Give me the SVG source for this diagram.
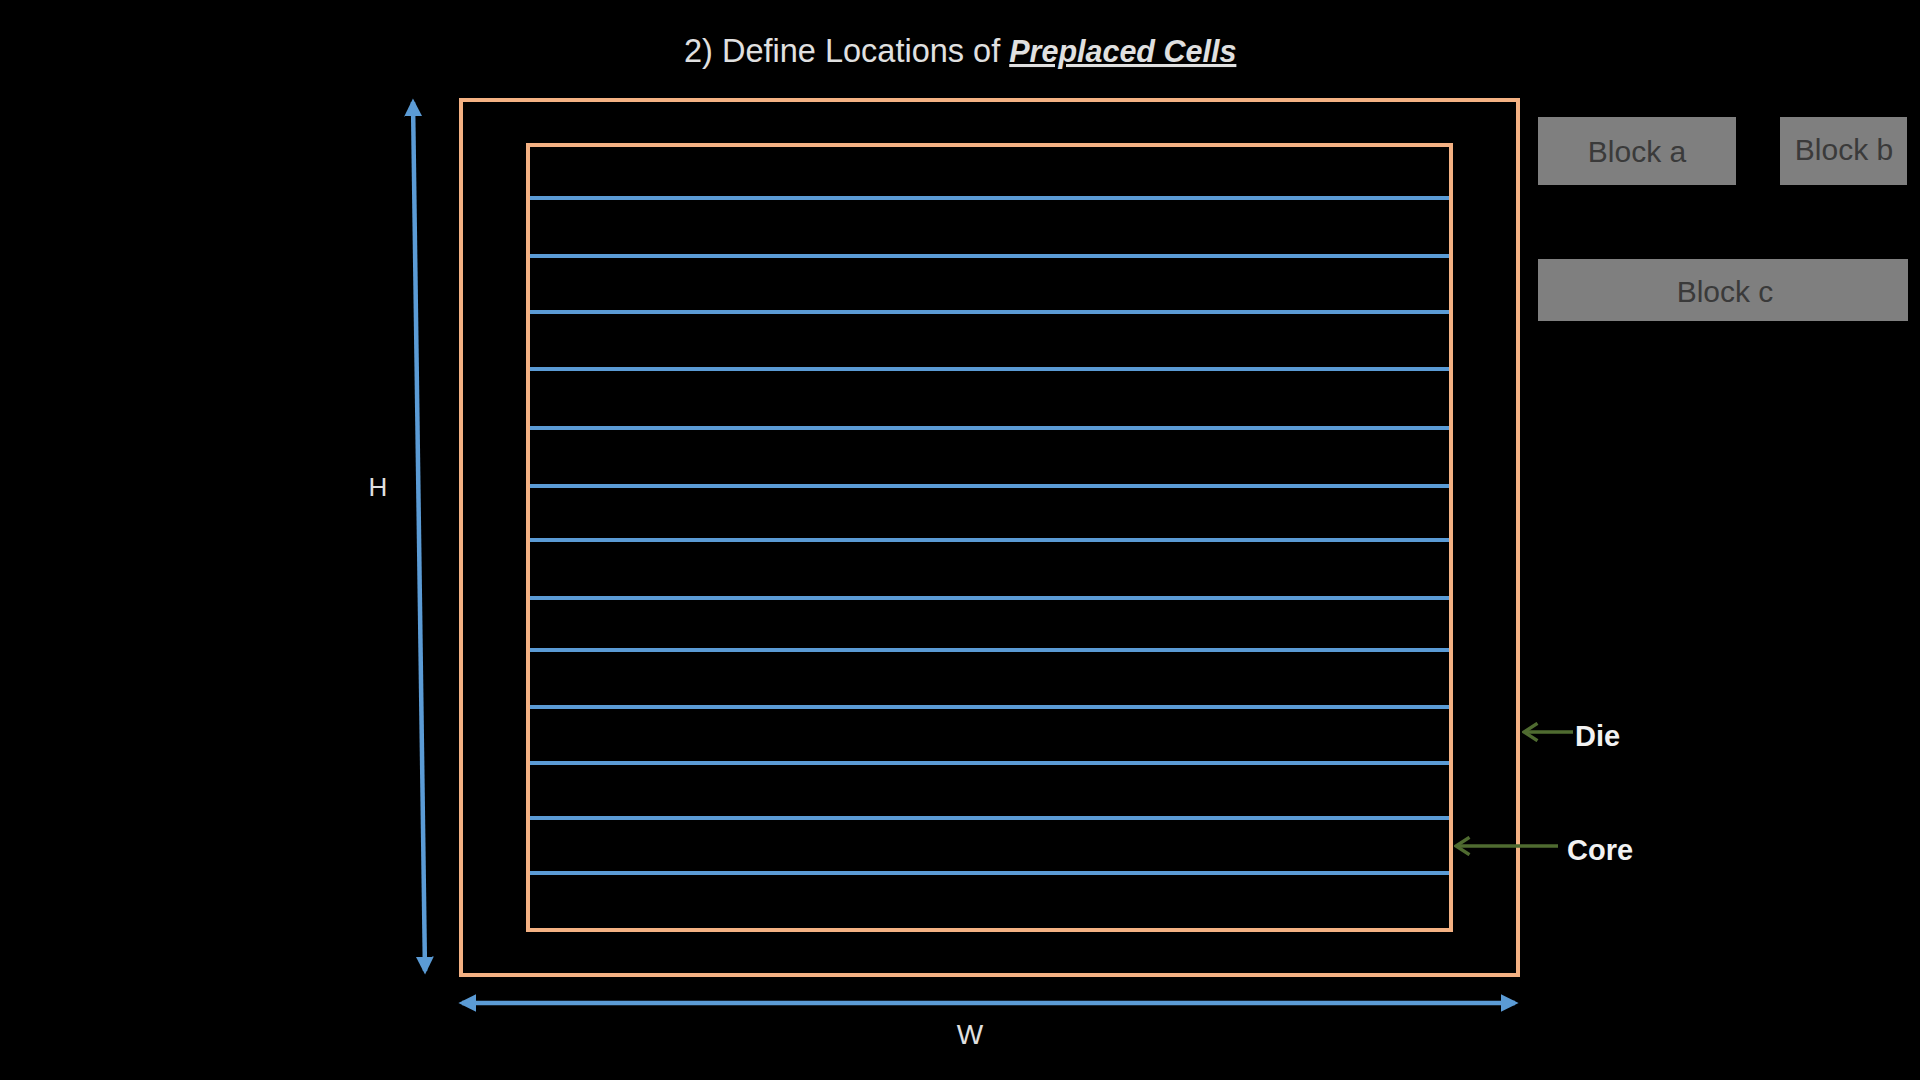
<svg xmlns="http://www.w3.org/2000/svg" width="1920" height="1080" viewBox="0 0 1920 1080">
<style>
.frame{fill:none;stroke:#F4B183;stroke-width:4}
.row{stroke:#5B9BD5;stroke-width:4}
.dim{stroke:#5B9BD5;stroke-width:4.5;fill:none}
.lbl{stroke:#4F6B30;stroke-width:3.5;fill:none}
.blk{fill:#7F7F7F}
.blkt{font-family:"Liberation Sans",Arial,sans-serif;font-size:30px;fill:#3A3A3A;text-anchor:middle}
.t{font-family:"Liberation Sans",Arial,sans-serif;fill:#E0E0E0}
.b{font-family:"Liberation Sans",Arial,sans-serif;font-weight:bold;fill:#F2F2F2;font-size:29px}
</style>
<defs>
<marker id="ab" viewBox="0 0 10 10" refX="8" refY="5" markerWidth="4" markerHeight="4" orient="auto-start-reverse" markerUnits="strokeWidth">
<path d="M0,0 L10,5 L0,10 Z" fill="#5B9BD5"/>
</marker>
<marker id="ag" viewBox="0 0 10 10" refX="9" refY="5" markerWidth="5.5" markerHeight="5.5" orient="auto" markerUnits="strokeWidth">
<path d="M2,0.5 L9,5 L2,9.5" fill="none" stroke="#4F6B30" stroke-width="1.8"/>
</marker>
</defs>
<rect width="1920" height="1080" fill="#000"/>
<text class="t" x="684" y="62" font-size="32.5">2) Define Locations of <tspan font-weight="bold" font-style="italic" text-decoration="underline" font-size="30.5">Preplaced Cells</tspan></text>
<g id="die"><rect class="frame" x="461" y="100" width="1057" height="875"/></g>
<g id="core"><rect class="frame" x="528" y="145" width="923" height="785"/>
<g id="rows">
<line class="row" x1="530" y1="198" x2="1449" y2="198"/>
<line class="row" x1="530" y1="256" x2="1449" y2="256"/>
<line class="row" x1="530" y1="312" x2="1449" y2="312"/>
<line class="row" x1="530" y1="369" x2="1449" y2="369"/>
<line class="row" x1="530" y1="428" x2="1449" y2="428"/>
<line class="row" x1="530" y1="486" x2="1449" y2="486"/>
<line class="row" x1="530" y1="540" x2="1449" y2="540"/>
<line class="row" x1="530" y1="598" x2="1449" y2="598"/>
<line class="row" x1="530" y1="650" x2="1449" y2="650"/>
<line class="row" x1="530" y1="707" x2="1449" y2="707"/>
<line class="row" x1="530" y1="763" x2="1449" y2="763"/>
<line class="row" x1="530" y1="818" x2="1449" y2="818"/>
<line class="row" x1="530" y1="873" x2="1449" y2="873"/>
</g></g>
<g id="block-a"><rect class="blk" x="1538" y="117" width="198" height="68"/><text class="blkt" x="1637" y="162">Block a</text></g>
<g id="block-b"><rect class="blk" x="1780" y="117" width="127" height="68"/><text class="blkt" x="1844" y="160">Block b</text></g>
<g id="block-c"><rect class="blk" x="1538" y="259" width="370" height="62"/><text class="blkt" x="1725" y="302">Block c</text></g>
<g id="connectors">
<line class="dim" x1="413" y1="102" x2="425" y2="971" marker-start="url(#ab)" marker-end="url(#ab)"/>
<line class="dim" x1="462" y1="1003" x2="1515" y2="1003" marker-start="url(#ab)" marker-end="url(#ab)"/>
<line class="lbl" x1="1573" y1="732" x2="1524" y2="732" marker-end="url(#ag)"/>
<line class="lbl" x1="1558" y1="846" x2="1456" y2="846" marker-end="url(#ag)"/>
</g>
<text class="t" x="378" y="496" font-size="26" text-anchor="middle">H</text>
<text class="t" x="970" y="1044" font-size="28" text-anchor="middle">W</text>
<text class="b" x="1575" y="746">Die</text>
<text class="b" x="1567" y="860">Core</text>
</svg>
